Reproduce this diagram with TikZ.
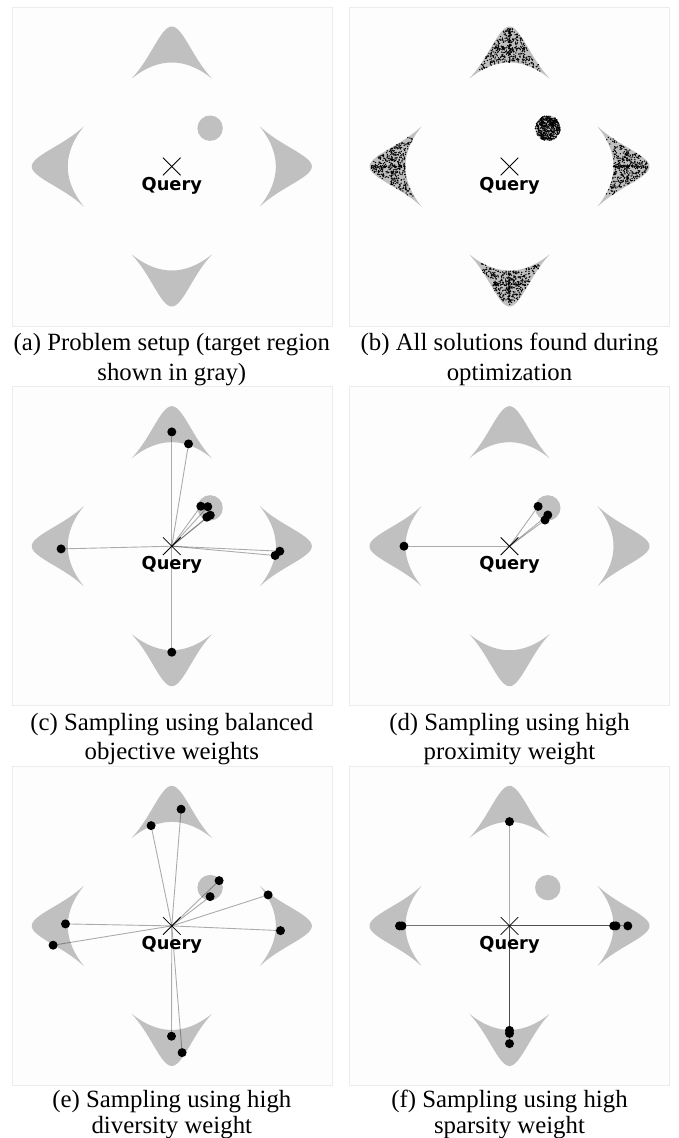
\documentclass[tikz,border=0pt]{standalone}
\usepackage{fontspec}
\setmainfont{Liberation Serif}
\newfontfamily\qfont{DejaVu Sans}
\usetikzlibrary{calc}
\pgfdeclarelayer{background}
\pgfdeclarelayer{links}
\pgfsetlayers{background,links,main}
\definecolor{regiongray}{RGB}{192,192,192}
\definecolor{panelbg}{RGB}{253,253,253}
\definecolor{panelframe}{RGB}{236,236,236}
\tikzset{
  panelbox/.style={fill=panelbg, draw=panelframe, line width=0.6pt},
  region/.style={fill=regiongray},
  dot/.style={circle, fill=black, inner sep=0pt, minimum size=9pt},
  link/.style={draw=black, draw opacity=0.32, line width=0.9pt},
  qmark/.style={line width=0.8pt},
  qlabel/.style={font=\qfont\bfseries\fontsize{17.8}{20}\selectfont, anchor=base, inner sep=0pt},
  captext/.style={font=\fontsize{24.8}{30}\selectfont, anchor=base, inner sep=0pt},
}
% outer (tent with rounded top) and inner (arc) edge of one arm; l = lateral, d = outward
\newcommand\armpath{plot[domain=-40:40,samples=81] (\x,{120.325+28*exp(0-(\x)*(\x)/625)-0.8325*sqrt((\x)*(\x)+100)}) -- plot[domain=40:-40,samples=41] (\x,{104-16*(\x/40)*(\x/40)}) -- cycle}
% #1 = name of the panel centre, #2 = position
\newcommand\panelbase[2]{%
  \coordinate (#1) at #2;
  \begin{pgfonlayer}{background}
    \draw[panelbox] ($(#1)+(-160,-159.5)$) rectangle ($(#1)+(160,159.5)$);
    \foreach \r in {0,90,180,270}{
      \begin{scope}[shift={(#1)}, rotate=\r]
        \fill[region] \armpath;
      \end{scope}
    }
    \fill[region] ($(#1)+(38.3,38.3)$) circle (12.7);
  \end{pgfonlayer}
  \draw[qmark] ($(#1)+(-8.8,-8.8)$) -- ($(#1)+(8.8,8.8)$);
  \draw[qmark] ($(#1)+(-8.8,8.8)$) -- ($(#1)+(8.8,-8.8)$);
  \node[qlabel] (#1lab) at ($(#1)+(0,-23.5)$) {Query};
}
\newcommand\scatterarm[1]{%
  \begin{scope}[shift={(pb)}, rotate=#1]
    \foreach \i in {1,...,360}{
      \pgfmathsetmacro\l{15.5*(rand+rand)}
      \pgfmathsetmacro\din{104-16*(\l/40)*(\l/40)}
      \pgfmathsetmacro\dout{120.325+28*exp(0-(\l)*(\l)/625)-0.8325*sqrt((\l)*(\l)+100)}
      \pgfmathsetmacro\d{\din+(\dout-\din)*(0.02+0.93*rnd)}
      \fill (\l,\d) circle (0.75);
    }
    \foreach \i in {1,...,40}{
      \pgfmathsetmacro\d{104+34*rnd}
      \pgfmathsetmacro\l{0.8*rand}
      \fill (\l,\d) circle (0.75);
    }
    \foreach \i in {1,...,30}{
      \pgfmathsetmacro\l{16*rand}
      \pgfmathsetmacro\d{118+0.8*rand}
      \fill (\l,\d) circle (0.75);
    }
  \end{scope}}
% #1 = panel centre name, #2 = list of name/dx/dy
\newcommand\sampledots[2]{%
  \foreach \n/\dx/\dy in {#2}{
    \node[dot] (\n) at ($(#1)+(\dx,\dy)$) {};
    \begin{pgfonlayer}{links}\draw[link] (#1) -- (\n);\end{pgfonlayer}
  }}
\begin{document}
\begin{tikzpicture}[x=1pt,y=1pt]
\useasboundingbox (0,0) rectangle (678,-1138);
\begin{pgfonlayer}{background}
\fill[white] (0,0) rectangle (678,-1138);
\end{pgfonlayer}

% ---------- (a)
\panelbase{pa}{(171.8,-166.5)}
\node[captext] (capa1) at (171.8,-350.5) {(a) Problem setup (target region};
\node[captext] (capa2) at (171.8,-380) {shown in gray)};

% ---------- (b)
\panelbase{pb}{(509.5,-166.5)}
\pgfmathsetseed{4242}
\scatterarm{0}
\scatterarm{90}
\scatterarm{180}
\scatterarm{270}
\begin{scope}[shift={(pb)}]
  \foreach \i in {1,...,400}{
    \pgfmathsetmacro\rr{12.4*sqrt(rnd)}
    \pgfmathsetmacro\aa{360*rnd}
    \fill ($(38.3,38.3)+(\aa:\rr)$) circle (0.8);
  }
\end{scope}
\node[captext] (capb1) at (509.5,-350.5) {(b) All solutions found during};
\node[captext] (capb2) at (509.5,-380) {optimization};

% ---------- (c)
\panelbase{pc}{(171.8,-546.2)}
\sampledots{pc}{c1/0/114.3, c2/16.7/102.3, c3/29/40, c4/36/39.5, c5/35/29, c6/38.5/31, c7/-110.7/-2.7, c8/108/-5, c9/103.3/-9.3, c10/0/-106}
\node[captext] (capc1) at (171.8,-730) {(c) Sampling using balanced};
\node[captext] (capc2) at (171.8,-759.5) {objective weights};

% ---------- (d)
\panelbase{pd}{(509.5,-546.2)}
\sampledots{pd}{d1/28.6/39.8, d2/38.3/31.2, d3/35.5/26.2, d4/-105.5/0}
\node[captext] (capd1) at (509.5,-730) {(d) Sampling using high};
\node[captext] (capd2) at (509.5,-759.5) {proximity weight};

% ---------- (e)
\panelbase{pe}{(171.8,-925.9)}
\sampledots{pe}{e1/9.3/116.7, e2/-20.7/100.3, e3/47.3/45.3, e4/38.3/29.3, e5/96.3/31, e6/108.7/-4.7, e7/-106.3/2, e8/-118.7/-19.3, e9/-0.3/-110.3, e10/10.3/-126.7}
\node[captext] (cape1) at (171.8,-1107) {(e) Sampling using high};
\node[captext] (cape2) at (171.8,-1133.5) {diversity weight};

% ---------- (f)
\panelbase{pf}{(509.5,-925.9)}
\sampledots{pf}{f1/0/104.3, f2/-110/0, f3/-107.5/0, f4/104.2/0, f5/106.5/0, f6/118.3/0, f7/0/-104.5, f8/0/-107.5, f9/0/-117.7}
\node[captext] (capf1) at (509.5,-1107) {(f) Sampling using high};
\node[captext] (capf2) at (509.5,-1133.5) {sparsity weight};
\end{tikzpicture}
\end{document}
